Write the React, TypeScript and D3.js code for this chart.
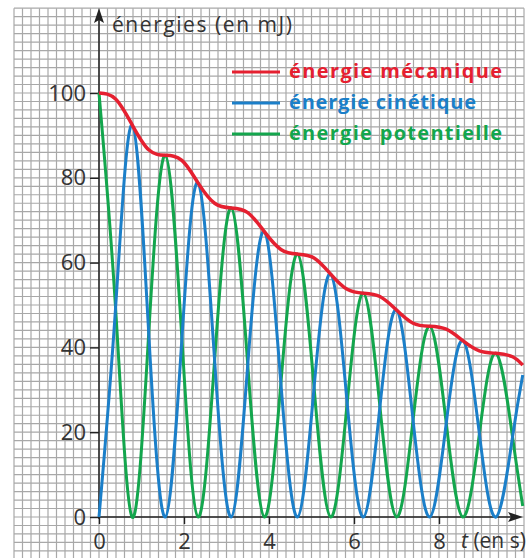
import { useEffect, useRef } from 'react'
import * as d3 from 'd3'

// temps (s) : échantillons (extrema et mi-hauteurs)
const times = [0, 0.39, 0.78, 1.17, 1.56, 1.95, 2.33, 2.72, 3.11, 3.5, 3.89, 4.28, 4.67, 5.06, 5.45, 5.84, 6.22, 6.61, 7.0, 7.39, 7.78, 8.17, 8.56, 8.95, 9.34, 9.73, 9.97]
const mecanique = [100, 98.6, 92.5, 86.6, 85.3, 84.1, 78.8, 74, 72.9, 71.8, 67.3, 63.1, 62, 61.1, 57.3, 53.7, 52.8, 52, 48.8, 45.7, 45, 44.3, 41.6, 39.2, 38.6, 37.8, 35.8]
const cinetique = [0, 49.3, 92.5, 43.3, 0, 42, 78.8, 37, 0, 35.9, 67.3, 31.5, 0, 30.5, 57.3, 26.8, 0, 26, 48.8, 22.8, 0, 22.1, 41.6, 19.6, 0, 18.9, 33.5]
const potentielle = [100, 49.3, 0, 43.3, 85.3, 42.1, 0, 37, 72.9, 35.9, 0, 31.6, 62, 30.6, 0, 26.9, 52.8, 26, 0, 22.9, 45, 22.2, 0, 19.6, 38.6, 18.9, 2.6]

const yTicks = [0, 20, 40, 60, 80, 100]
const xTicks = [0, 2, 4, 6, 8]

const series = [
    { name: 'énergie mécanique', values: mecanique, color: '#e52030' },
    { name: 'énergie cinétique', values: cinetique, color: '#1b7fc9' },
    { name: 'énergie potentielle', values: potentielle, color: '#13a64d' },
]

const Chart = () => {
    const ref = useRef<SVGSVGElement | null>(null)

    useEffect(() => {
        if (!ref.current) return
        const width = 528
        const height = 558

        const svg = d3.select(ref.current).attr('width', width).attr('height', height)
        svg.selectAll('*').remove()

        const x = d3.scaleLinear().domain([0, 10]).range([99, 524])
        const y = d3.scaleLinear().domain([0, 100]).range([517, 93])

        // papier millimétré
        const grid = svg.append('g').attr('stroke', '#a8a8a8').attr('stroke-width', 1.2)
        grid.selectAll('line.v')
            .data(d3.range(-10, 51).map(i => i * 0.2))
            .join('line')
            .attr('x1', d => x(d)).attr('x2', d => x(d))
            .attr('y1', y(120)).attr('y2', height)
        grid.selectAll('line.h')
            .data(d3.range(-5, 61).map(i => i * 2))
            .join('line')
            .attr('class', 'h')
            .attr('x1', x(-2)).attr('x2', x(10))
            .attr('y1', d => y(d)).attr('y2', d => y(d))

        // axes
        const yAxis = svg.append('g')
            .attr('transform', `translate(${x(0)},0)`)
            .call(d3.axisLeft(y).tickValues(yTicks).tickSize(9).tickPadding(4).tickFormat(d3.format('d')))
        const xAxis = svg.append('g')
            .attr('transform', `translate(0,${y(0)})`)
            .call(d3.axisBottom(x).tickValues(xTicks).tickSize(7).tickPadding(9).tickFormat(d3.format('d')))
        for (const ax of [yAxis, xAxis]) {
            ax.select('.domain').remove()
            ax.selectAll('line').attr('stroke', '#222').attr('stroke-width', 1.4)
            ax.selectAll('text')
                .attr('fill', '#333')
                .attr('font-family', 'Open Sans')
                .attr('font-size', 22)
        }

        svg.append('line')
            .attr('x1', x(0)).attr('x2', x(0))
            .attr('y1', y(0) + 2).attr('y2', 20)
            .attr('stroke', '#222').attr('stroke-width', 1.5)
        svg.append('line')
            .attr('x1', x(0)).attr('x2', 512)
            .attr('y1', y(0)).attr('y2', y(0))
            .attr('stroke', '#222').attr('stroke-width', 1.5)
        svg.append('path')
            .attr('d', `M${x(0)},8 L${x(0) + 5},23 L${x(0)},20 L${x(0) - 5},23 Z`)
            .attr('fill', '#222')
        svg.append('path')
            .attr('d', `M523,${y(0)} L508,${y(0) - 5} L511,${y(0)} L508,${y(0) + 5} Z`)
            .attr('fill', '#222')

        // titres des axes
        svg.append('text')
            .attr('x', 112).attr('y', 32)
            .attr('font-family', 'Open Sans').attr('font-size', 21)
            .attr('fill', '#333')
            .attr('textLength', 180).attr('lengthAdjust', 'spacing')
            .text('énergies (en mJ)')
        const xl = svg.append('text')
            .attr('x', 461).attr('y', 548)
            .attr('font-family', 'Open Sans').attr('font-size', 21)
            .attr('fill', '#333')
        xl.append('tspan').attr('font-style', 'italic').text('t')
        xl.append('tspan').text(' (en s)')

        // courbes
        const pts = (vals: number[]) => times.map((t, i) => [t, vals[i]] as [number, number])
        const line = d3.line<[number, number]>()
            .x(d => x(d[0])).y(d => y(d[1]))
            .curve(d3.curveNatural)

        svg.append('path')
            .attr('d', line(pts(potentielle)))
            .attr('fill', 'none').attr('stroke', series[2].color).attr('stroke-width', 3)
        svg.append('path')
            .attr('d', line(pts(cinetique)))
            .attr('fill', 'none').attr('stroke', series[1].color).attr('stroke-width', 3)
        svg.append('path')
            .attr('d', line(pts(mecanique)))
            .attr('fill', 'none').attr('stroke', series[0].color).attr('stroke-width', 3.5)

        // légende
        const legend = svg.append('g')
        const widths = [213, 187, 213]
        series.forEach((s, i) => {
            const ly = 72 + i * 31
            legend.append('line')
                .attr('x1', 232).attr('x2', 280)
                .attr('y1', ly).attr('y2', ly)
                .attr('stroke', s.color).attr('stroke-width', 3)
            legend.append('text')
                .attr('x', 289).attr('y', ly + 6)
                .attr('font-family', 'Open Sans').attr('font-weight', 'bold')
                .attr('font-size', 20)
                .attr('fill', s.color)
                .attr('textLength', widths[i]).attr('lengthAdjust', 'spacing')
                .text(s.name)
        })
    }, [])

    return <svg ref={ref} style={{ position: 'absolute', left: 0, top: 0, background: 'white' }}></svg>
}

export default function App() {
    return <Chart />
}
